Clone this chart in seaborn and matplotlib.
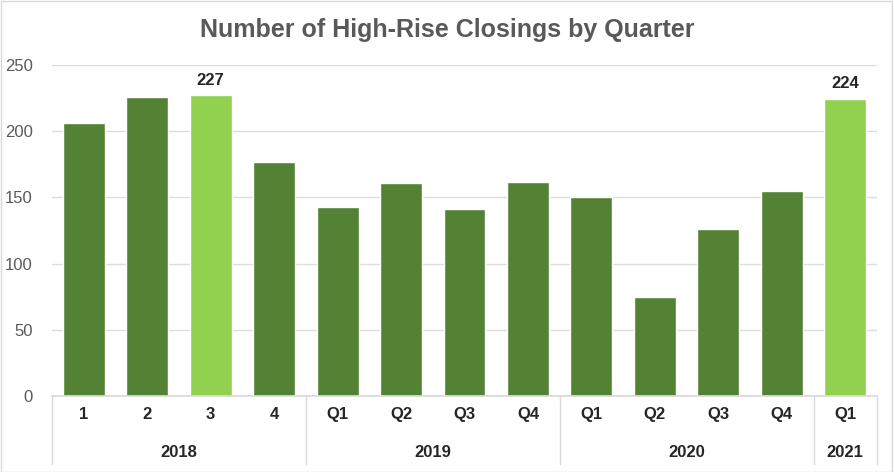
import matplotlib.pyplot as plt
import matplotlib.transforms as mtransforms
import seaborn as sns
import pandas as pd

sns.set_theme(style="white")
plt.rcParams['font.family'] = ['Liberation Sans Narrow', 'Liberation Sans', 'DejaVu Sans']

# Data
quarters = ['1', '2', '3', '4', 'Q1', 'Q2', 'Q3', 'Q4', 'Q1', 'Q2', 'Q3', 'Q4', 'Q1']
closings = [206, 226, 227, 177, 143, 161, 141, 162, 150, 75, 126, 155, 224]
highlight = [False, False, True, False, False, False, False, False, False, False, False, False, True]
years = ['2018', '2019', '2020', '2021']
year_sizes = [4, 4, 4, 1]

df = pd.DataFrame({'pos': range(len(quarters)), 'closings': closings,
                   'hl': ['high' if h else 'normal' for h in highlight]})

fig = plt.figure(figsize=(8.94, 4.72), dpi=100)
ax = fig.add_axes([52 / 894, 1 - 396 / 472, 825 / 894, 331 / 472])

sns.barplot(data=df, x='pos', y='closings', hue='hl',
            palette={'normal': '#548235', 'high': '#92D050'},
            width=0.66, dodge=False, legend=False, ax=ax, saturation=1)

ax.set_xlim(-0.5, len(quarters) - 0.5)
ax.set_ylim(0, 250)
ax.set_yticks(range(0, 251, 50))
ax.yaxis.grid(True, color='#DDDDDD', linewidth=1)
ax.set_axisbelow(True)
for s in ['left', 'right', 'top']:
    ax.spines[s].set_visible(False)
ax.spines['bottom'].set_color('#D9D9D9')
ax.tick_params(axis='y', length=0, labelsize=12, labelcolor='#595959', pad=14)
ax.set_xticks(range(len(quarters)))
ax.set_xticklabels(quarters, fontsize=12, fontweight='bold', color='#262626')
ax.tick_params(axis='x', length=0, pad=8)
ax.set_xlabel('')
ax.set_ylabel('')

# Labels on highlighted bars
for i, (v, h) in enumerate(zip(closings, highlight)):
    if h:
        ax.text(i, v + 6, str(v), ha='center', va='bottom', fontsize=12,
                fontweight='bold', color='#262626')

# Year grouping row
trans = mtransforms.blended_transform_factory(ax.transData, ax.transAxes)
start = -0.5
edges = [start]
for name, n in zip(years, year_sizes):
    ax.text(start + n / 2, -0.17, name, transform=trans, ha='center', va='center',
            fontsize=12, fontweight='bold', color='#262626')
    start += n
    edges.append(start)
for e in edges:
    ax.plot([e, e], [0, -0.205], transform=trans, color='#D9D9D9', linewidth=1,
            clip_on=False)

fig.text(0.5, 1 - 30 / 472, 'Number of High-Rise Closings by Quarter', ha='center',
         va='center', fontsize=18, fontweight='bold', color='#595959',
         family=['Liberation Sans', 'DejaVu Sans'])

# Outer border
fig.patches.append(plt.Rectangle((0.001, 0.001), 0.997, 0.997, transform=fig.transFigure,
                                 fill=False, edgecolor='#D9D9D9', linewidth=1))

fig.savefig('out.png', dpi=100)
